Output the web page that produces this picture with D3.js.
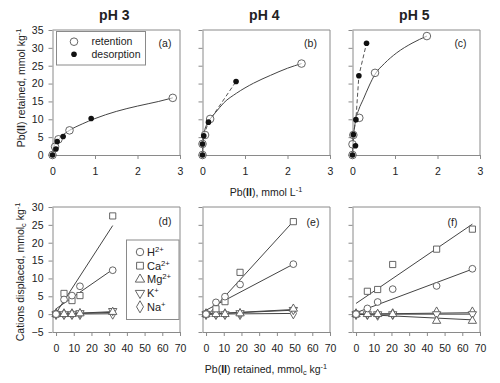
<!DOCTYPE html>
<html><head><meta charset="utf-8">
<script src="https://cdn.jsdelivr.net/npm/d3@7"></script>
<style>
body{margin:0;background:#fff}
svg{display:block}
text{font-family:"Liberation Sans",Arial,sans-serif;fill:#222}
</style>
</head><body><svg id="c" width="500" height="383"></svg>
<script>
// ---------- data ----------
const titles = ["pH 3", "pH 4", "pH 5"];
const topLetters = ["(a)", "(b)", "(c)"];
const bottomLetters = ["(d)", "(e)", "(f)"];
const topXTicks = [0, 1, 2, 3];
const topYTicks = [0, 5, 10, 15, 20, 25, 30, 35];
const bottomXTicks = [0, 10, 20, 30, 40, 50, 60, 70];
const bottomYTicks = [-5, 0, 5, 10, 15, 20, 25, 30];

// [Pb in solution (mmol/L), Pb retained (mmol/kg)]
const retentionPH3 = [[0,0],[0.06,2.3],[0.14,4.4],[0.40,6.9],[2.83,16.0]];
const desorptionPH3 = [[0,0],[0.08,1.7],[0.11,3.8],[0.25,5.2],[0.91,10.2]];
const curvePH3 = [[0,0],[0.02,1.8],[0.05,2.8],[0.1,3.8],[0.2,5.1],[0.4,6.9],[0.7,8.7],[1,10.2],[1.5,12.2],[2,13.7],[2.5,15.0],[2.83,16.0]];
const dashPH3 = [];

const retentionPH4 = [[0,0],[0,3.1],[0.06,5.6],[0.18,10.1],[2.33,25.6]];
const desorptionPH4 = [[0,0],[0,3.1],[0.03,5.4],[0.14,9.2],[0.79,20.6]];
const curvePH4 = [[0,0],[0.01,3],[0.03,5.5],[0.1,8.6],[0.18,10.1],[0.3,11.8],[0.5,14.6],[0.8,17.3],[1.2,20.1],[1.6,22.3],[2,24.3],[2.33,25.6]];
const dashPH4 = [[0,0],[0,3.1],[0.03,5.4],[0.14,9.2],[0.79,20.6]];

const retentionPH5 = [[0,0],[0,3.0],[0.02,5.6],[0.16,10.4],[0.53,23.0],[1.75,33.3]];
const desorptionPH5 = [[0,0],[0.07,2.6],[0.02,5.7],[0.08,9.9],[0.15,22.2],[0.33,31.3]];
const curvePH5 = [[0,0],[0.01,3],[0.03,6],[0.08,10],[0.15,12.8],[0.25,15.5],[0.4,19.6],[0.53,22.6],[0.75,25.6],[1.04,28.6],[1.4,31.3],[1.75,33.3]];
const dashPH5 = [[0,0],[0.02,5.7],[0.08,9.9],[0.15,22.2],[0.33,31.3]];

// bottom: Pb retained (mmolc/kg) and cations displaced
const pbRetPH3 = [0, 4.5, 9, 13.5, 32];
const hPH3  = [0, 4.1, 5.2, 7.8, 12.3];
const caPH3 = [0, 5.8, 3.8, 5.2, 27.5];
const mgPH3 = [0, 0, 0, 0.2, 0.6];
const kPH3  = [0, 0, 0, 0.3, 0.9];
const naPH3 = [0, 0, 0, 0, 0.1];
const fitPH3 = {H:[[0,1.5],[32,12.5]], Ca:[[0,0.3],[32,24.8]], Mg:[[0,0],[32,0.5]], K:[[0,0],[32,0.7]], Na:[[0,0],[32,0.1]]};

const pbRetPH4 = [0, 5.6, 10.7, 19.2, 49.3];
const hPH4  = [0, 3.3, 4.9, 8.3, 14.0];
const caPH4 = [0, 1.5, 3.5, 11.7, 25.9];
const mgPH4 = [0, 0, 0, 0.2, 1.5];
const kPH4  = [0, 0, 0, 0.3, 1.2];
const naPH4 = [0, 0, 0, 0, 0.2];
const fitPH4 = {H:[[0,1.1],[49.3,14.0]], Ca:[[0,-0.8],[49.3,26.0]], Mg:[[0,0],[49.3,1.3]], K:[[0,0],[49.3,1.1]], Na:[[0,0],[49.3,0.2]]};

const pbRetPH5 = [0, 6.4, 12.2, 20.7, 45.5, 65.7];
const hPH5  = [0, 1.6, 3.4, 7.0, 7.9, 12.7];
const caPH5 = [0, 6.4, 6.9, 13.9, 18.2, 23.8];
const mgPH5 = [0, 0, 0, 0, -1.9, -1.9];
const kPH5  = [0, 0, 0, 0, 0, 0];
const naPH5 = [0, 0, -0.2, 0, 0.5, 0.5];
const fitPH5 = {H:[[0,0.4],[65.7,12.6]], Ca:[[0,3.0],[65.7,25.2]], Mg:[[0,0],[65.7,-1.6]], K:[[0,0],[65.7,0]], Na:[[0,0],[65.7,0.4]]};

const cationNames = ["H", "Ca", "Mg", "K", "Na"];
const cationCharges = ["2+", "2+", "2+", "+", "+"];

// ---------- layout ----------
const svg = d3.select("#c");
const X0 = [52.5, 202.5, 352.5];
const W = 127.5;
const TOP = [30, 155], BOT = [207, 332];
const AX = "#8a8a8a", LN = "#444";
const FS = 10.5;

const topData = [
  {ret: retentionPH3, des: desorptionPH3, curve: curvePH3, dash: dashPH3},
  {ret: retentionPH4, des: desorptionPH4, curve: curvePH4, dash: dashPH4},
  {ret: retentionPH5, des: desorptionPH5, curve: curvePH5, dash: dashPH5}
];
const botData = [
  {x: pbRetPH3, s: [hPH3, caPH3, mgPH3, kPH3, naPH3], fit: fitPH3},
  {x: pbRetPH4, s: [hPH4, caPH4, mgPH4, kPH4, naPH4], fit: fitPH4},
  {x: pbRetPH5, s: [hPH5, caPH5, mgPH5, kPH5, naPH5], fit: fitPH5}
];
const letterPos = [[112.5, 13], [108, 13], [108, 13]];
const letterPosB = [[112.5, 14], [110.5, 15], [100, 15]];

const symTypes = [d3.symbolCircle, d3.symbolSquare, d3.symbolTriangle, d3.symbolTriangle, d3.symbolDiamond];
const symSizes = [36, 38, 30, 30, 34];
const symRot = [0, 0, 0, 180, 0];

function axes(g, x, y, xt, yt, yr, showY) {
  const xa = d3.axisBottom(x).tickValues(xt).tickSize(4).tickPadding(9).tickSizeOuter(0).tickFormat(d3.format("d"));
  const ya = d3.axisLeft(y).tickValues(yt).tickSize(4).tickPadding(5).tickSizeOuter(0).tickFormat(showY ? d3.format("d") : () => "");
  const gx = g.append("g").attr("transform", `translate(0,${yr[1]})`).call(xa);
  const gy = g.append("g").attr("transform", `translate(${x.range()[0]},0)`).call(ya);
  [gx, gy].forEach(a => {
    a.selectAll("path,line").attr("stroke", AX);
    a.selectAll("text").attr("font-size", FS).attr("fill", "#222").attr("font-family", '"Liberation Sans",Arial,sans-serif');
  });
  g.append("line").attr("x1", x.range()[0]).attr("x2", x.range()[1]).attr("y1", yr[0]).attr("y2", yr[0]).attr("stroke", AX);
  g.append("line").attr("x1", x.range()[1]).attr("x2", x.range()[1]).attr("y1", yr[0]).attr("y2", yr[1]).attr("stroke", AX);
}

function richText(g, parts, size) {
  const t = g.append("text").attr("font-size", size);
  let shift = 0;
  parts.forEach(([s, st]) => {
    const ts = t.append("tspan").text(s);
    let target = 0;
    if (st === "b") ts.attr("font-weight", "bold");
    if (st === "sup") { ts.attr("font-size", size * 0.7); target = -size * 0.38; }
    if (st === "sub") { ts.attr("font-size", size * 0.7); target = size * 0.22; }
    ts.attr("dy", target - shift);
    shift = target;
  });
  return t;
}

// ---------- top panels ----------
for (let i = 0; i < 3; i++) {
  const g = svg.append("g");
  const x = d3.scaleLinear().domain([0, 3]).range([X0[i], X0[i] + W]);
  const y = d3.scaleLinear().domain([0, 35]).range([TOP[1], TOP[0]]);
  axes(g, x, y, topXTicks, topYTicks, TOP, i === 0);

  g.append("text").attr("x", X0[i] + W / 2 - 2).attr("y", 20).attr("text-anchor", "middle")
    .attr("font-size", 14).attr("font-weight", "bold").text(titles[i]);
  g.append("text").attr("x", X0[i] + letterPos[i][0]).attr("y", TOP[0] + letterPos[i][1]).attr("dy", "0.35em")
    .attr("text-anchor", "middle").attr("font-size", FS).text(topLetters[i]);

  const d = topData[i];
  const line = d3.line().x(p => x(p[0])).y(p => y(p[1])).curve(d3.curveMonotoneX);
  const lineLin = d3.line().x(p => x(p[0])).y(p => y(p[1]));
  if (d.dash.length) g.append("path").attr("d", lineLin(d.dash)).attr("fill", "none").attr("stroke", "#555").attr("stroke-width", 1).attr("stroke-dasharray", "4,2.5");
  g.append("path").attr("d", line(d.curve)).attr("fill", "none").attr("stroke", LN).attr("stroke-width", 1);

  g.selectAll(".r").data(d.ret).join("circle").attr("cx", p => x(p[0])).attr("cy", p => y(p[1])).attr("r", 3.8)
    .attr("fill", "rgba(255,255,255,0.6)").attr("stroke", "#555").attr("stroke-width", 0.9);
  g.selectAll(".d").data(d.des).join("circle").attr("cx", p => x(p[0])).attr("cy", p => y(p[1])).attr("r", 2.8)
    .attr("fill", "#111");
}

// legend (a)
{
  const lg = svg.append("g");
  lg.append("rect").attr("x", 56.5).attr("y", 31.5).attr("width", 89).attr("height", 33.5).attr("fill", "#fff").attr("stroke", AX);
  lg.append("circle").attr("cx", 74).attr("cy", 41.7).attr("r", 3.8).attr("fill", "#fff").attr("stroke", "#555").attr("stroke-width", 0.9);
  lg.append("circle").attr("cx", 74).attr("cy", 54.3).attr("r", 2.8).attr("fill", "#111");
  lg.append("text").attr("x", 91.5).attr("y", 41.7).attr("dy", "0.35em").attr("font-size", FS).text("retention");
  lg.append("text").attr("x", 91.5).attr("y", 54.3).attr("dy", "0.35em").attr("font-size", FS).text("desorption");
}

// ---------- bottom panels ----------
for (let i = 0; i < 3; i++) {
  const g = svg.append("g");
  const x = d3.scaleLinear().domain([-2, 70]).range([X0[i], X0[i] + W]);
  const y = d3.scaleLinear().domain([-5, 30]).range([BOT[1], BOT[0]]);
  axes(g, x, y, bottomXTicks, bottomYTicks, BOT, i === 0);
  g.append("text").attr("x", X0[i] + letterPosB[i][0]).attr("y", BOT[0] + letterPosB[i][1]).attr("dy", "0.35em")
    .attr("text-anchor", "middle").attr("font-size", FS).text(bottomLetters[i]);

  const d = botData[i];
  const lineLin = d3.line().x(p => x(p[0])).y(p => y(p[1]));
  cationNames.forEach(n => {
    g.append("path").attr("d", lineLin(d.fit[n])).attr("fill", "none").attr("stroke", LN).attr("stroke-width", 1);
  });
  for (let k = cationNames.length - 1; k >= 0; k--) {
    const sym = d3.symbol().type(symTypes[k]).size(symSizes[k]);
    g.selectAll(null).data(d.s[k].map((v, j) => [d.x[j], v])).join("path")
      .attr("d", sym)
      .attr("transform", p => `translate(${x(p[0])},${y(p[1])}) rotate(${symRot[k]})`)
      .attr("fill", "#fff").attr("stroke", "#555").attr("stroke-width", 0.9);
  }
}

// legend (d)
{
  const lg = svg.append("g");
  lg.append("rect").attr("x", 126.5).attr("y", 240).attr("width", 52.5).attr("height", 79.5).attr("fill", "#fff").attr("stroke", AX);
  cationNames.forEach((n, k) => {
    const cy = 252 + k * 13.7;
    const sym = d3.symbol().type(symTypes[k]).size(symSizes[k] + 8);
    lg.append("path").attr("d", sym).attr("transform", `translate(140,${cy}) rotate(${symRot[k]})`)
      .attr("fill", "#fff").attr("stroke", "#555").attr("stroke-width", 0.9);
    const t = richText(lg, [[n, "n"], [cationCharges[k], "sup"]], 11);
    t.attr("x", 147).attr("y", cy + 4);
  });
}

// ---------- axis titles ----------
{
  const t1 = richText(svg, [["Pb(", "n"], ["II", "b"], ["), mmol L", "n"], ["-1", "sup"]], FS);
  t1.attr("x", 266).attr("y", 196).attr("text-anchor", "middle");
  const t2 = richText(svg, [["Pb(", "n"], ["II", "b"], [") retained, mmol", "n"], ["c", "sub"], [" kg", "n"], ["-1", "sup"]], FS);
  t2.attr("x", 266).attr("y", 373).attr("text-anchor", "middle");
  const t3 = richText(svg, [["Pb(", "n"], ["II", "b"], [") retained, mmol kg", "n"], ["-1", "sup"]], FS);
  t3.attr("text-anchor", "middle").attr("transform", "translate(25,88) rotate(-90)");
  const t4 = richText(svg, [["Cations displaced, mmol", "n"], ["c", "sub"], [" kg", "n"], ["-1", "sup"]], FS);
  t4.attr("text-anchor", "middle").attr("transform", "translate(24,272) rotate(-90)");
}
</script></body></html>
